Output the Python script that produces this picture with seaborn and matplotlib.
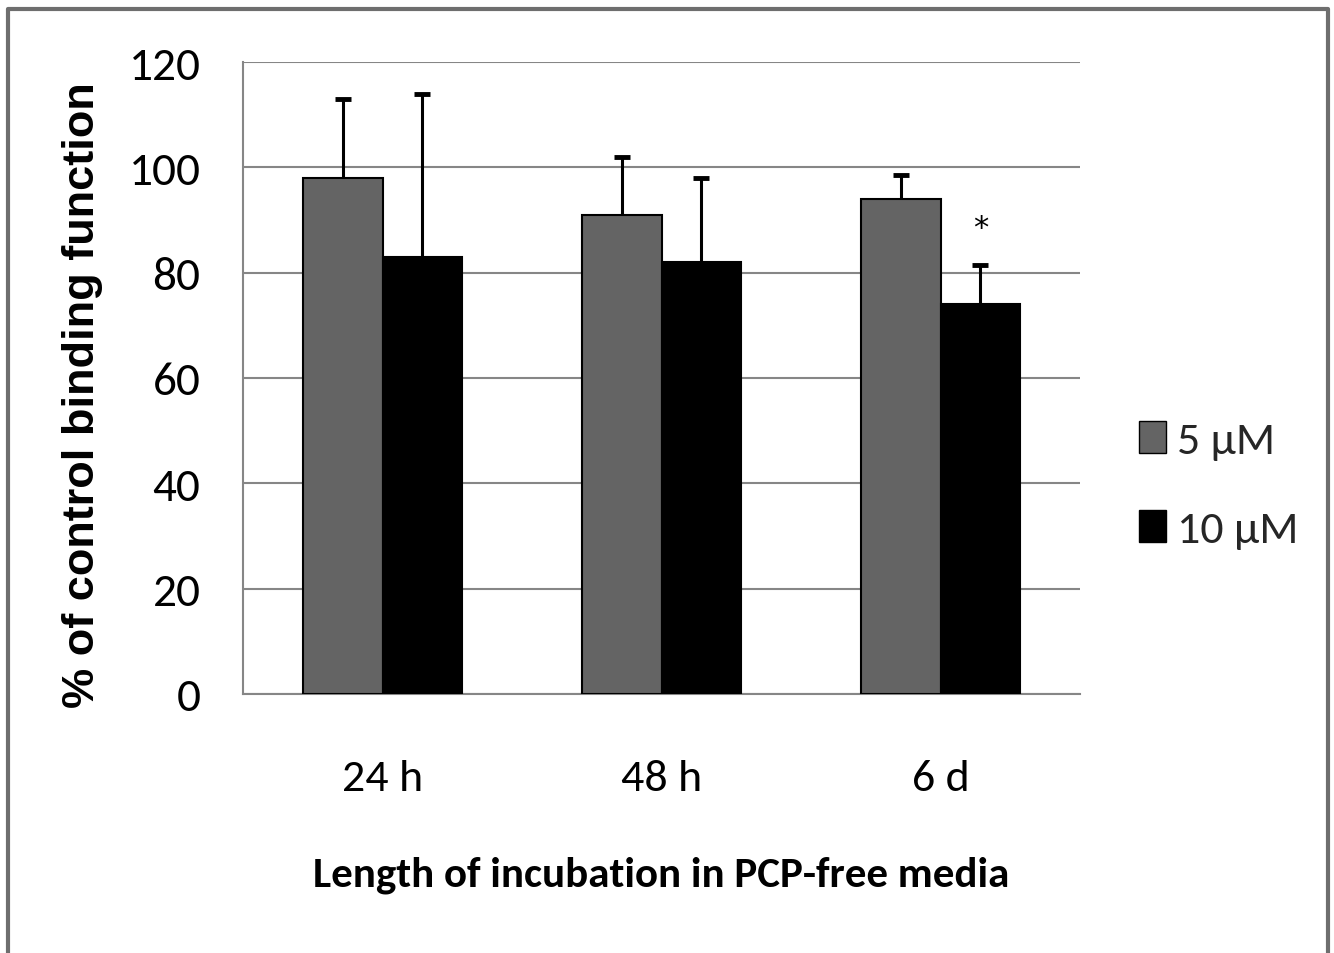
import matplotlib
matplotlib.use("Agg")
import matplotlib.pyplot as plt
from matplotlib.lines import Line2D
from matplotlib.patches import Patch
import seaborn as sns
import pandas as pd

# ---- data ----
categories = ["24 h", "48 h", "6 d"]
series = ["5 \u00b5M", "10 \u00b5M"]
values_5uM = [98, 91, 94]
values_10uM = [83, 82, 74]
err_5uM = [15, 11, 4.5]
err_10uM = [31, 16, 7.5]
y_ticks = [0, 20, 40, 60, 80, 100, 120]
colors = ["#646464", "#000000"]

df = pd.DataFrame({
    "cat": categories * 2,
    "series": [series[0]] * 3 + [series[1]] * 3,
    "value": values_5uM + values_10uM,
})
errs = {series[0]: err_5uM, series[1]: err_10uM}

sns.set_theme(style="white")
plt.rcParams["font.family"] = ["Carlito", "DejaVu Sans"]

fig = plt.figure(figsize=(13.34, 9.54), dpi=100)
ax = fig.add_axes([243 / 1334, 1 - 695 / 954, (1080 - 243) / 1334, (695 - 63) / 954])

sns.barplot(data=df, x="cat", y="value", hue="series", order=categories,
            hue_order=series, palette=colors, width=0.57, errorbar=None,
            edgecolor="black", linewidth=1.5, ax=ax, legend=False, zorder=3)

grid_col = "#868686"
for cont, s in zip(ax.containers, series):
    for bar, e in zip(cont, errs[s]):
        xc = bar.get_x() + bar.get_width() / 2
        h = bar.get_height()
        _, caps, _ = ax.errorbar(xc, h, yerr=[[0], [e]], fmt="none", ecolor="black",
                                 elinewidth=2.2, capsize=6, capthick=3.5, zorder=4)
        caps[0].remove()

bar6 = ax.containers[1][2]
ax.text(bar6.get_x() + bar6.get_width() / 2, 88.5, "*", ha="center",
        va="center", fontsize=22, color="black", family=["DejaVu Sans"])

ax.set_xlim(-0.5, 2.5)
ax.set_ylim(0, 120)
ax.set_yticks(y_ticks)
ax.set_yticklabels([str(t) for t in y_ticks])
ax.yaxis.grid(True, color=grid_col, linewidth=1.5)
ax.set_axisbelow(True)
for sp in ["top", "right"]:
    ax.spines[sp].set_visible(False)
for sp in ["left", "bottom"]:
    ax.spines[sp].set_color(grid_col)
    ax.spines[sp].set_linewidth(1.5)

ax.tick_params(axis="y", which="major", length=8.6, width=1.5, color=grid_col,
               direction="out", pad=22, labelsize=34, labelcolor="black")
ax.set_xticks([-0.5, 0.5, 1.5, 2.5], minor=True)
ax.tick_params(axis="x", which="minor", length=12, width=1.5, color=grid_col,
               direction="out")
ax.tick_params(axis="x", which="major", length=0, pad=47, labelsize=33,
               labelcolor="black")

ax.set_xlabel("Length of incubation in PCP-free media", fontsize=31,
              fontweight="bold", color="black")
ax.xaxis.set_label_coords(0.5, -0.255)
ax.set_ylabel("% of control binding function", fontsize=32.5, fontweight="bold",
              color="black", family=["Liberation Sans", "DejaVu Sans"])
ax.yaxis.set_label_coords(-0.167, 0.4747)

handles = [Patch(facecolor=c, edgecolor="black", linewidth=1.0) for c in colors]
fig.legend(handles, series, loc="center left", bbox_to_anchor=(1139 / 1334, 1 - 486 / 954),
           frameon=False, fontsize=33, handlelength=0.58, handleheight=0.7,
           handletextpad=0.25, labelspacing=1.1, borderpad=0, borderaxespad=0)

fx = [8 / 1334, 8 / 1334, 1328 / 1334, 1328 / 1334]
fy = [0, 1 - 10 / 954, 1 - 10 / 954, 0]
fig.add_artist(Line2D(fx, fy, transform=fig.transFigure, color="#6e6e6e", linewidth=3))

fig.savefig("out.png", dpi=100)
